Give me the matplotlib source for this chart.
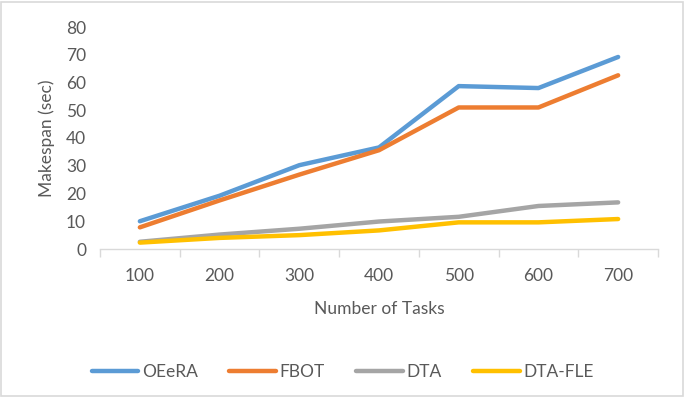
import matplotlib.pyplot as plt
import numpy as np

plt.rcParams['font.family'] = ['Lato', 'DejaVu Sans']

tasks = ['100', '200', '300', '400', '500', '600', '700']
oeera = [10, 19.2, 30.2, 36.6, 58.7, 58.0, 69.2]
fbot = [7.8, 17.5, 26.8, 35.6, 51.0, 51.0, 62.6]
dta = [2.6, 5.2, 7.3, 9.9, 11.6, 15.5, 16.8]
dta_fle = [2.3, 4.0, 5.0, 6.7, 9.6, 9.6, 10.8]

series = [('OEeRA', oeera, '#5B9BD5'), ('FBOT', fbot, '#ED7D31'),
          ('DTA', dta, '#A5A5A5'), ('DTA-FLE', dta_fle, '#FFC000')]

txt = '#595959'
fontsize = 12.5

fig = plt.figure(figsize=(6.85, 3.97), dpi=100)
ax = fig.add_axes([100/685, 1-249/397, 558/685, 222/397])

x = np.arange(len(tasks))
for name, vals, col in series:
    ax.plot(x, vals, color=col, lw=3.2, label=name,
            solid_capstyle='round', solid_joinstyle='round')

ax.set_xlim(-0.5, len(tasks) - 0.5)
ax.set_ylim(0, 80)
ax.set_yticks(np.arange(0, 81, 10))
ax.set_xticks(x)
ax.set_xticklabels(tasks)
ax.set_xticks(np.arange(-0.5, len(tasks)), minor=True)
ax.tick_params(axis='x', which='major', length=0, pad=14, labelsize=fontsize, labelcolor=txt)
ax.tick_params(axis='x', which='minor', length=6, color='#D9D9D9', width=1)
ax.tick_params(axis='y', length=0, pad=10, labelsize=fontsize, labelcolor=txt)

for s in ['top', 'right', 'left']:
    ax.spines[s].set_visible(False)
ax.spines['bottom'].set_color('#D9D9D9')
ax.spines['bottom'].set_linewidth(1)

ax.set_xlabel('Number of Tasks', fontsize=fontsize, color=txt, labelpad=12)
ax.set_ylabel('Makespan (sec)', fontsize=fontsize, color=txt, labelpad=8)

fig.legend(loc='center', bbox_to_anchor=(0.5, 1-372/397), ncol=4, frameon=False,
           fontsize=fontsize, labelcolor=txt, handlelength=2.7, handletextpad=0.2,
           columnspacing=1.8)

fig.patches.append(plt.Rectangle((0.002, 0.003), 0.995, 0.993, transform=fig.transFigure,
                                 fill=False, edgecolor='#D9D9D9', lw=1.2))

fig.savefig('out.png', dpi=100)
